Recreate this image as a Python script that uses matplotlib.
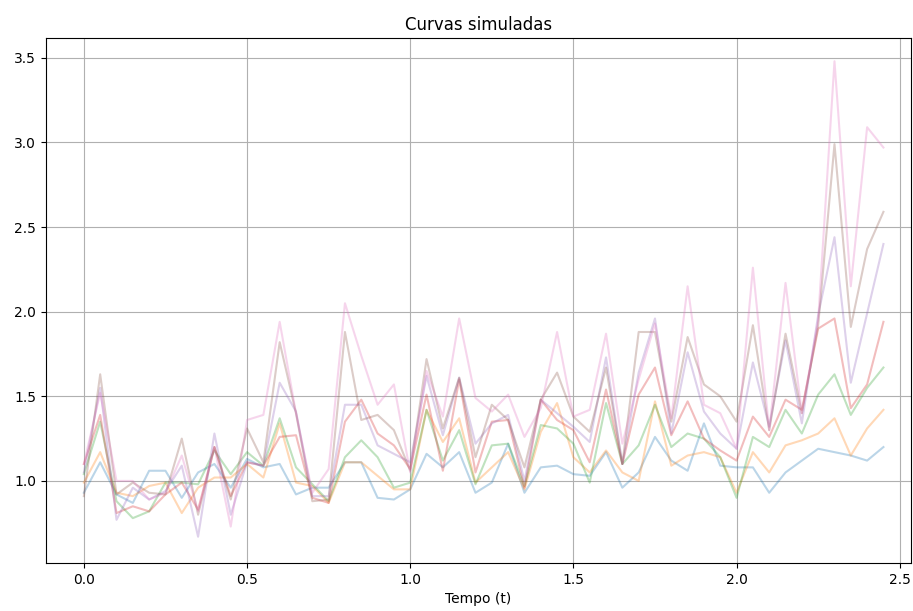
import numpy as np
import matplotlib
matplotlib.use("Agg")
import matplotlib.pyplot as plt

# time grid (step 0.05)
tempo = np.round(np.arange(50) * 0.05, 2)

curva_1 = [0.93, 1.11, 0.92, 0.87, 1.06, 1.06, 0.90, 1.05, 1.10, 0.96,
           1.13, 1.08, 1.10, 0.92, 0.96, 0.96, 1.11, 1.11, 0.90, 0.89,
           0.95, 1.16, 1.08, 1.17, 0.93, 0.99, 1.22, 0.93, 1.08, 1.09,
           1.04, 1.03, 1.17, 0.96, 1.05, 1.26, 1.12, 1.06, 1.34, 1.09,
           1.08, 1.08, 0.93, 1.05, 1.12, 1.19, 1.17, 1.15, 1.12, 1.20]
curva_2 = [0.99, 1.17, 0.93, 0.91, 0.97, 0.99, 0.81, 0.96, 1.02, 1.02,
           1.10, 1.02, 1.34, 0.99, 0.97, 0.87, 1.11, 1.11, 1.03, 0.95,
           0.95, 1.42, 1.23, 1.37, 0.99, 1.08, 1.17, 0.95, 1.29, 1.46,
           1.14, 1.05, 1.18, 1.05, 1.00, 1.47, 1.09, 1.15, 1.17, 1.14,
           0.93, 1.17, 1.05, 1.21, 1.24, 1.28, 1.37, 1.15, 1.31, 1.42]
curva_3 = [1.04, 1.35, 0.88, 0.78, 0.82, 0.99, 0.99, 0.98, 1.18, 1.04,
           1.17, 1.09, 1.37, 1.08, 0.98, 0.88, 1.14, 1.24, 1.14, 0.96,
           0.99, 1.42, 1.12, 1.30, 0.98, 1.21, 1.22, 0.97, 1.33, 1.31,
           1.22, 0.99, 1.46, 1.10, 1.21, 1.45, 1.20, 1.28, 1.25, 1.14,
           0.90, 1.26, 1.20, 1.42, 1.28, 1.51, 1.63, 1.39, 1.55, 1.67]
curva_4 = [1.10, 1.39, 0.81, 0.85, 0.82, 0.92, 0.99, 0.83, 1.20, 0.91,
           1.11, 1.09, 1.26, 1.27, 0.90, 0.87, 1.35, 1.48, 1.28, 1.21,
           1.07, 1.51, 1.06, 1.60, 1.05, 1.35, 1.36, 0.96, 1.48, 1.36,
           1.30, 1.11, 1.54, 1.10, 1.51, 1.67, 1.27, 1.47, 1.25, 1.18,
           1.12, 1.38, 1.26, 1.48, 1.42, 1.90, 1.96, 1.43, 1.57, 1.94]
curva_5 = [1.05, 1.55, 0.77, 0.96, 0.89, 0.94, 1.09, 0.67, 1.28, 0.80,
           1.11, 1.09, 1.58, 1.41, 0.91, 0.91, 1.45, 1.45, 1.21, 1.16,
           1.11, 1.62, 1.27, 1.61, 1.22, 1.34, 1.39, 1.00, 1.48, 1.40,
           1.32, 1.23, 1.73, 1.10, 1.64, 1.96, 1.28, 1.76, 1.41, 1.28,
           1.19, 1.70, 1.32, 1.83, 1.34, 1.98, 2.44, 1.58, 1.99, 2.40]
curva_6 = [0.91, 1.63, 0.92, 0.99, 0.93, 0.92, 1.25, 0.80, 1.20, 0.89,
           1.31, 1.11, 1.82, 1.40, 0.88, 0.89, 1.88, 1.36, 1.39, 1.30,
           1.06, 1.72, 1.31, 1.61, 1.14, 1.45, 1.36, 1.08, 1.48, 1.64,
           1.38, 1.29, 1.67, 1.10, 1.88, 1.88, 1.35, 1.85, 1.57, 1.50,
           1.35, 1.92, 1.30, 1.87, 1.40, 1.92, 2.99, 1.91, 2.37, 2.59]
curva_7 = [1.10, 1.52, 1.00, 1.00, 0.89, 0.93, 1.15, 0.82, 1.20, 0.73,
           1.36, 1.39, 1.94, 1.40, 0.93, 1.07, 2.05, 1.74, 1.45, 1.57,
           1.05, 1.65, 1.38, 1.96, 1.49, 1.41, 1.51, 1.26, 1.43, 1.88,
           1.38, 1.42, 1.87, 1.22, 1.60, 1.93, 1.37, 2.15, 1.45, 1.40,
           1.19, 2.26, 1.30, 2.17, 1.40, 1.95, 3.48, 2.15, 3.09, 2.97]

curvas = [curva_1, curva_2, curva_3, curva_4, curva_5, curva_6, curva_7]

fig = plt.figure(figsize=(9.13, 6.11), dpi=100)
ax = fig.add_axes([0.0504, 0.0786, 0.9476, 0.8594])

for c in curvas:
    ax.plot(tempo, c, alpha=0.3, linewidth=1.5)

ax.set_xlim(-0.116, 2.535)
ax.set_ylim(0.515, 3.618)
ax.set_xticks([0.0, 0.5, 1.0, 1.5, 2.0, 2.5])
ax.set_yticks([1.0, 1.5, 2.0, 2.5, 3.0, 3.5])
ax.grid(True)
ax.set_title("Curvas simuladas")
ax.set_xlabel("Tempo (t)")

fig.savefig("out.png", dpi=100)
